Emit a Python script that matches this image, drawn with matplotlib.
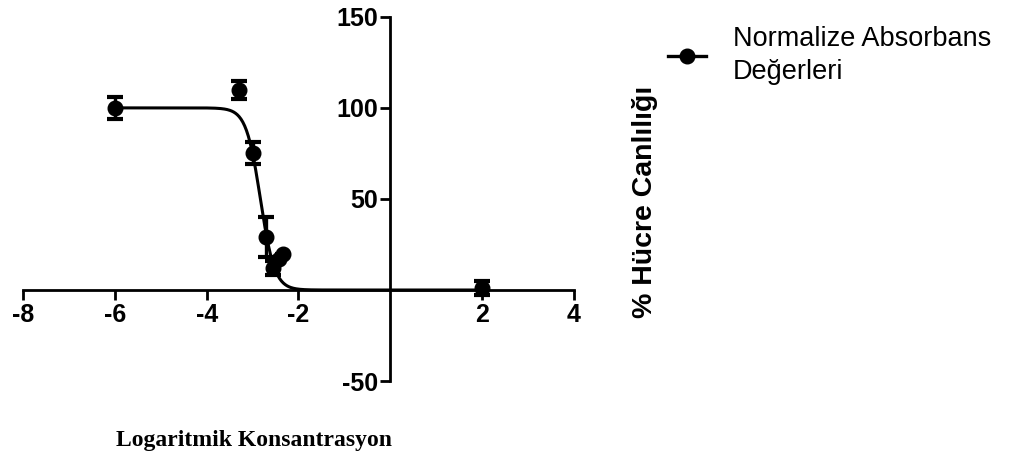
import numpy as np
import matplotlib.pyplot as plt
from matplotlib.lines import Line2D

plt.rcParams['axes.unicode_minus'] = False

# veriler (okunan degerler)
log_kons = [-6.0, -3.3, -3.0, -2.7, -2.55, -2.42, -2.33, 2.0]
canlilik = [100, 110, 75, 29, 12, 17, 20, 1]
hata = [6, 5, 6, 11, 4, 0, 0, 4]

# egri parametreleri (4PL)
ust, alt, log_ic50, hill = 100, 0, -2.83, 2.8

x_tick = [-8, -6, -4, -2, 2, 4]
y_tick = [-50, 50, 100, 150]

fig = plt.figure(figsize=(10.24, 4.67), dpi=100)
ax = fig.add_axes([0.0225, 0.184, 0.538, 0.78])

xx = np.linspace(-6, 2, 400)
yy = alt + (ust - alt) / (1 + 10 ** ((xx - log_ic50) * hill))
ax.plot(xx, yy, color='black', lw=2.2, zorder=2)

ax.errorbar(log_kons, canlilik, yerr=hata, fmt='o', color='black', ms=10.5,
            capsize=6, capthick=3, elinewidth=2.4, zorder=3)

ax.set_xlim(-8, 4)
ax.set_ylim(-50, 150)
ax.spines['left'].set_position(('data', 0))
ax.spines['bottom'].set_position(('data', 0))
ax.spines['right'].set_visible(False)
ax.spines['top'].set_visible(False)
for s in ['left', 'bottom']:
    ax.spines[s].set_linewidth(2)
ax.set_xticks(x_tick)
ax.set_yticks(y_tick)
ax.tick_params(direction='out', width=2, length=7, labelsize=18, pad=2)
for lab in ax.get_xticklabels() + ax.get_yticklabels():
    lab.set_fontweight('bold')
    lab.set_family('Liberation Sans')

fig.text(0.248, 0.057, 'Logaritmik Konsantrasyon', family='Liberation Serif',
         fontweight='bold', fontsize=17, ha='center', va='center')
fig.text(0.630, 0.567, '% Hücre Canlılığı', family='Liberation Sans',
         fontweight='bold', fontsize=20.5, rotation=90, ha='center', va='center')

h = Line2D([], [], color='black', marker='o', ms=10.5, lw=2.4)
leg = fig.legend([h], ['Normalize Absorbans\nDeğerleri'], loc='upper left',
                 bbox_to_anchor=(0.652, 0.945), frameon=False, handlelength=1.4,
                 handletextpad=1.0, labelspacing=0.2, borderpad=0, borderaxespad=0,
                 prop={'family': 'Liberation Sans', 'size': 19.5})
for t in leg.get_texts():
    t.set_linespacing(1.35)

fig.savefig('out.png', dpi=100)
